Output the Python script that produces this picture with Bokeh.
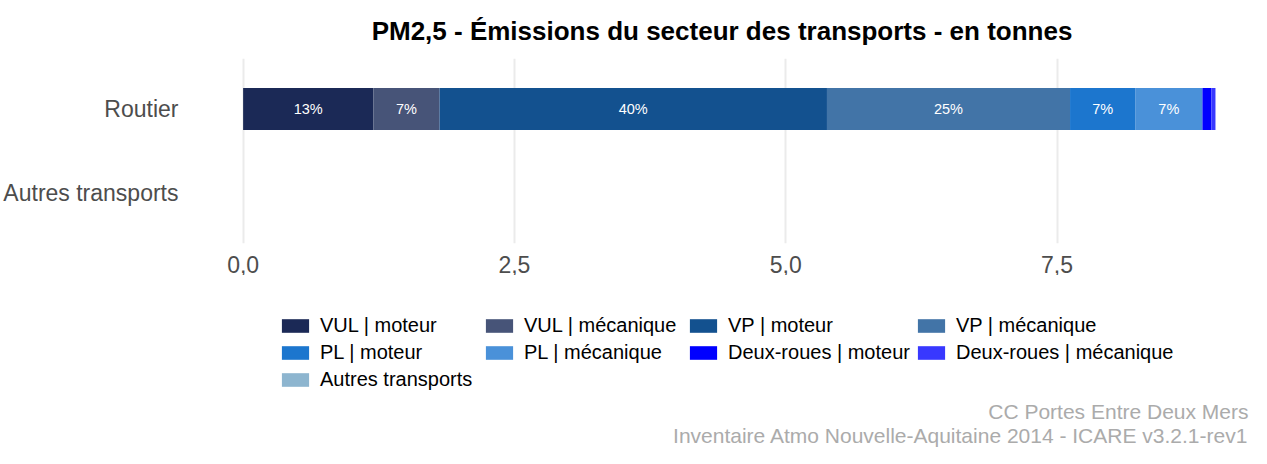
from bokeh.plotting import figure
from bokeh.layouts import column
from bokeh.models import (ColumnDataSource, Range1d, FactorRange, Legend, LegendItem,
                          Label, FixedTicker, CustomJSTickFormatter)
from bokeh.core.properties import value
from bokeh.embed import file_html
from bokeh.resources import INLINE

# ---------------- data ----------------
categories = ["Autres transports", "Routier"]

series_labels = ["VUL | moteur", "VUL | mécanique", "VP | moteur", "VP | mécanique",
                 "PL | moteur", "PL | mécanique", "Deux-roues | moteur",
                 "Deux-roues | mécanique", "Autres transports"]
series_keys = ["vul_moteur", "vul_mecanique", "vp_moteur", "vp_mecanique",
               "pl_moteur", "pl_mecanique", "deux_roues_moteur",
               "deux_roues_mecanique", "autres_transports"]
series_colors = ["#1b2956", "#475478", "#13518f", "#4274a7", "#1c76ce",
                 "#4a91d9", "#0000ff", "#3838ff", "#8db5cf"]

# tonnes, per category [Autres transports, Routier]
vul_moteur = [0.0, 1.20]
vul_mecanique = [0.0, 0.61]
vp_moteur = [0.0, 3.57]
vp_mecanique = [0.0, 2.24]
pl_moteur = [0.0, 0.60]
pl_mecanique = [0.0, 0.62]
deux_roues_moteur = [0.0, 0.083]
deux_roues_mecanique = [0.0, 0.037]
autres_transports = [0.0, 0.0]

x_ticks = [0.0, 2.5, 5.0, 7.5]
x_tick_labels = ["0,0", "2,5", "5,0", "7,5"]

title_text = "PM2,5 - Émissions du secteur des transports - en tonnes"
caption_lines = ["CC Portes Entre Deux Mers",
                 "Inventaire Atmo Nouvelle-Aquitaine 2014 - ICARE v3.2.1-rev1"]

# ---------------- build ----------------
values = dict(zip(series_keys, [vul_moteur, vul_mecanique, vp_moteur, vp_mecanique,
                                pl_moteur, pl_mecanique, deux_roues_moteur,
                                deux_roues_mecanique, autres_transports]))
source = ColumnDataSource(dict(cat=categories, **values))

totals = [sum(values[k][i] for k in series_keys) for i in range(len(categories))]
xmax = max(totals)

FONT = "Liberation Sans"
W = 1251
HA = 275
HB = 448 - HA
FRAME_LEFT = 194  # frame left shared by both stacked figures

# ---- main chart ----
p = figure(width=W, height=HA,
           y_range=FactorRange(factors=categories, range_padding=0.1,
                               range_padding_units="absolute"),
           x_range=Range1d(-0.05 * xmax, 1.035 * xmax),
           output_backend="svg", toolbar_location=None,
           min_border_left=FRAME_LEFT, min_border_right=2)

renderers = p.hbar_stack(series_keys, y="cat", height=0.5, color=series_colors,
                         source=source, line_color=None)

# percentage labels inside segments
lab_x, lab_y, lab_t = [], [], []
for i, cat in enumerate(categories):
    tot = totals[i]
    if tot <= 0:
        continue
    cum = 0.0
    for k in series_keys:
        v = values[k][i]
        pct = 100.0 * v / tot
        if pct >= 3:
            lab_x.append(cum + v / 2.0)
            lab_y.append(cat)
            lab_t.append(f"{pct:.0f}%")
        cum += v
lab_src = ColumnDataSource(dict(x=lab_x, y=lab_y, t=lab_t))
p.text(x="x", y="y", text="t", source=lab_src, text_color="white",
       text_font_size="14.5px", text_font=value(FONT),
       text_align="center", text_baseline="middle")

p.xaxis.ticker = FixedTicker(ticks=x_ticks)
p.xaxis.formatter = CustomJSTickFormatter(
    args=dict(tick_values=x_ticks, tick_labels=x_tick_labels),
    code="const i = tick_values.indexOf(tick); return i >= 0 ? tick_labels[i] : '';")
for ax, standoff in ((p.xaxis, 6), (p.yaxis, 10)):
    ax.axis_line_color = None
    ax.major_tick_line_color = None
    ax.minor_tick_line_color = None
    ax.major_label_text_font_size = "23px"
    ax.major_label_text_font = FONT
    ax.major_label_text_color = "#4d4d4d"
    ax.major_label_standoff = standoff

p.xgrid.grid_line_color = "#ebebeb"
p.xgrid.grid_line_width = 2
p.ygrid.grid_line_color = None
p.outline_line_color = None

p.title.text = title_text
p.title.align = "center"
p.title.text_font = FONT
p.title.text_font_size = "26px"
p.title.text_font_style = "bold"
p.title.text_color = "black"
p.title.standoff = 26

# ---- legend + caption strip ----
# legend keys use the same data with zero-height bars, outside the strip's x range
q = figure(width=W, height=HB, title=None, x_axis_location=None, y_axis_location=None,
           x_range=Range1d(-2, -1), y_range=FactorRange(factors=categories),
           output_backend="svg", toolbar_location=None,
           min_border_left=FRAME_LEFT, min_border_right=2,
           min_border_top=0, min_border_bottom=0)
q.outline_line_color = None
q.grid.visible = False

key_renderers = q.hbar_stack(series_keys, y="cat", height=0, color=series_colors,
                             source=source, line_color=None)

items = [LegendItem(label=lab, renderers=[r]) for lab, r in zip(series_labels, key_renderers)]
legend = Legend(items=items, ncols=4, nrows=3, orientation="horizontal",
                location=(281 - FRAME_LEFT - 3, 57),
                label_text_font_size="20px", label_text_font=FONT,
                label_text_color="black", label_width=158,
                glyph_width=34, glyph_height=17, label_standoff=8,
                spacing=4, padding=0, margin=0,
                border_line_color=None, background_fill_alpha=0)
q.add_layout(legend)

for line, ypos in zip(caption_lines, [37, 13]):
    q.add_layout(Label(x=W - 3 - FRAME_LEFT, y=ypos, x_units="screen", y_units="screen",
                       text=line, text_align="right", text_baseline="middle",
                       text_font=FONT, text_font_size="21px", text_color="#ababab"))

layout = column(p, q, spacing=0)
open("out.html", "w").write(file_html(layout, INLINE))
